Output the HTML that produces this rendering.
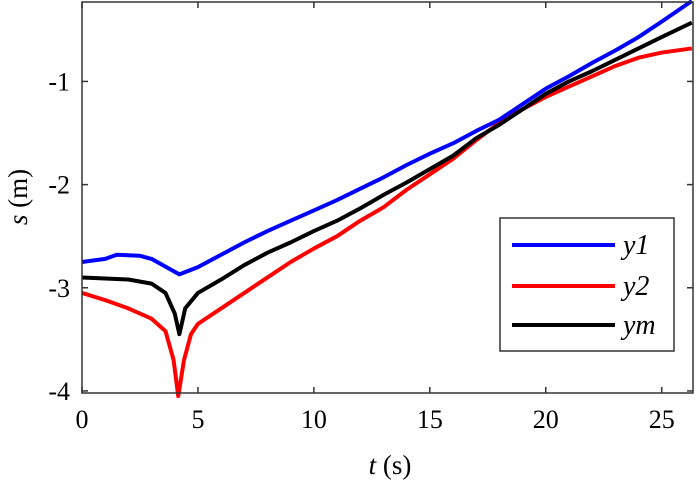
<!DOCTYPE html>
<html><head><meta charset="utf-8"><style>
body{margin:0;background:#fff}
svg text{font-family:"Liberation Serif",serif;fill:#000}
</style></head><body>
<svg id="c" width="700" height="490" xmlns="http://www.w3.org/2000/svg"></svg>
<script>
const tY1=[0,1,1.5,2.5,3,4.2,5,6,7,8,9,10,11,12,13,14,15,16,17,18,19,20,21,22,23,24,25,26.3];
const y1=[-2.75,-2.72,-2.68,-2.69,-2.72,-2.87,-2.8,-2.68,-2.56,-2.45,-2.35,-2.25,-2.15,-2.04,-1.93,-1.81,-1.7,-1.6,-1.48,-1.37,-1.22,-1.07,-0.95,-0.82,-0.7,-0.57,-0.42,-0.22];
const tYm=[0,1,2,3,3.6,4.0,4.2,4.45,5,6,7,8,9,10,11,12,13,14,15,16,17,18,19,20,21,22,23,24,25,26.3];
const ym=[-2.9,-2.91,-2.92,-2.96,-3.05,-3.25,-3.45,-3.2,-3.05,-2.92,-2.78,-2.66,-2.56,-2.45,-2.35,-2.23,-2.1,-1.98,-1.85,-1.72,-1.55,-1.42,-1.27,-1.12,-1,-0.9,-0.79,-0.68,-0.57,-0.43];
const tY2=[0,1,2,3,3.6,3.95,4.15,4.4,4.7,5,6,7,8,9,10,11,12,13,14,15,16,17,18,19,20,21,22,23,24,25,26.3];
const y2=[-3.05,-3.12,-3.2,-3.3,-3.42,-3.7,-4.05,-3.7,-3.45,-3.35,-3.2,-3.05,-2.9,-2.75,-2.62,-2.5,-2.35,-2.22,-2.05,-1.9,-1.75,-1.57,-1.4,-1.27,-1.15,-1.05,-0.95,-0.85,-0.77,-0.72,-0.68];
const xTicks=[0,5,10,15,20,25];
const yTicks=[-4,-3,-2,-1];
const L=82,R=693,T=2,B=393,xMax=26.35,yMin=-4.02,yMax=-0.23;
const X=v=>L+(v/xMax)*(R-L);
const Y=v=>B-(v-yMin)/(yMax-yMin)*(B-T);
const s=document.getElementById('c');const NS='http://www.w3.org/2000/svg';
function el(t,a,p){const e=document.createElementNS(NS,t);for(const k in a)e.setAttribute(k,a[k]);(p||s).appendChild(e);return e;}
function series(ts,vs,col,name){
 const p=el('polyline',{points:ts.map((t,i)=>X(t)+','+Y(vs[i])).join(' '),fill:'none',stroke:col,'stroke-width':4,'stroke-linejoin':'round'});
 
 
}
series(tY2,y2,'#f00','series-y2');
series(tYm,ym,'#000','series-ym');
series(tY1,y1,'#00f','series-y1');
const ax=el('rect',{x:L,y:T,width:R-L,height:B-T,fill:'none',stroke:'#333','stroke-width':1.5});


xTicks.forEach(v=>{
 el('line',{x1:X(v),x2:X(v),y1:B,y2:B-6,stroke:'#333','stroke-width':1.5});
 el('line',{x1:X(v),x2:X(v),y1:T,y2:T+6,stroke:'#333','stroke-width':1.5});
 const t=el('text',{x:X(v),y:B+35,'text-anchor':'middle','font-size':26});t.textContent=v;
 
 
});
yTicks.forEach(v=>{
 el('line',{x1:L,x2:L+6,y1:Y(v),y2:Y(v),stroke:'#333','stroke-width':1.5});
 el('line',{x1:R,x2:R-6,y1:Y(v),y2:Y(v),stroke:'#333','stroke-width':1.5});
 const t=el('text',{x:L-12,y:Y(v)+9,'text-anchor':'end','font-size':26});t.textContent=v;
 
 
});
const xt=el('text',{x:390,y:474,'text-anchor':'middle','font-size':27});
xt.innerHTML='<tspan font-style="italic">t</tspan> (s)';


const yt=el('text',{x:0,y:0,'text-anchor':'middle','font-size':27,transform:'translate(27,197) rotate(-90)'});
yt.innerHTML='<tspan font-style="italic">s</tspan> (m)';


const lg=el('g',{});


el('rect',{x:500,y:218,width:174,height:133,fill:'#fff',stroke:'#333','stroke-width':1.5},lg);
[['y1','#00f',245],['y2','#f00',286],['ym','#000',325]].forEach(([n,c,yy])=>{
 el('line',{x1:512,x2:615,y1:yy,y2:yy,stroke:c,'stroke-width':4},lg);
 const t=el('text',{x:623,y:yy+9,'font-size':28,'font-style':'italic'},lg);t.textContent=n;
 
 
});
</script>
</body></html>
